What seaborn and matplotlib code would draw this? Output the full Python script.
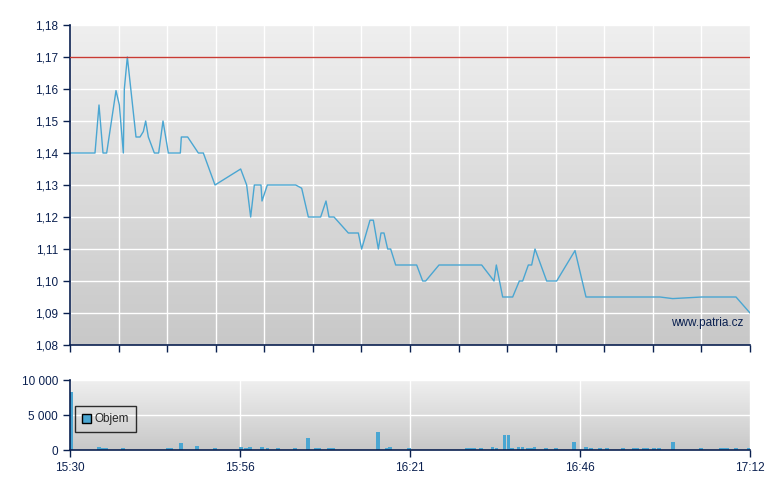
import numpy as np
import pandas as pd
import matplotlib
matplotlib.use("Agg")
import matplotlib.pyplot as plt
from matplotlib.patches import Patch
from matplotlib.ticker import FuncFormatter
import seaborn as sns

# price trace, minutes after 15:30
price_t = [0, 3.75, 4.35, 4.95, 5.5, 6.9, 7.4, 8.0, 8.15, 8.6,
           9.9, 10.5, 11.0, 11.35, 11.75, 12.65, 13.3, 13.95, 14.75, 16.55,
           16.7, 17.65, 19.25, 20.0, 21.75, 25.6, 26.5, 27.1, 27.65, 28.65,
           28.8, 29.6, 33.85, 34.75, 35.75, 37.6, 38.4, 38.85, 39.6, 41.75,
           43.25, 43.75, 45.0, 45.5, 46.25, 46.65, 47.1, 47.65, 48.1, 48.85,
           52.0, 52.9, 53.35, 55.35, 61.75, 63.6, 63.95, 64.9, 66.4, 67.4,
           67.9, 68.75, 69.25, 69.75, 71.5, 73.0, 75.75, 77.4, 88.5, 90.4,
           94.75, 99.9, 102]
price_v = [1.14, 1.14, 1.155, 1.14, 1.14, 1.1595, 1.155, 1.14, 1.16, 1.17,
           1.145, 1.145, 1.1467, 1.15, 1.145, 1.14, 1.14, 1.15, 1.14, 1.14,
           1.145, 1.145, 1.14, 1.14, 1.13, 1.135, 1.13, 1.12, 1.13, 1.13,
           1.125, 1.13, 1.13, 1.129, 1.12, 1.12, 1.125, 1.12, 1.12, 1.115,
           1.115, 1.11, 1.119, 1.119, 1.11, 1.115, 1.115, 1.11, 1.11, 1.105,
           1.105, 1.10, 1.10, 1.105, 1.105, 1.10, 1.105, 1.095, 1.095, 1.10,
           1.10, 1.105, 1.105, 1.11, 1.10, 1.10, 1.1095, 1.095, 1.095, 1.0945,
           1.095, 1.095, 1.09]
ref_price = 1.17

# volume ("Objem") bars
vol_t = [0.13, 4.33, 4.87, 5.39, 7.93, 14.65, 15.15, 16.63, 19.05, 21.75,
         25.63, 26.38, 26.98, 28.78, 29.63, 31.18, 33.73, 35.68, 36.86, 37.39,
         38.84, 39.42, 46.18, 47.5, 48.02, 50.83, 59.44, 60.0, 60.58, 61.65,
         63.4, 63.98, 65.2, 65.75, 66.3, 67.3, 67.85, 68.65, 69.15, 69.7,
         71.38, 72.88, 75.58, 77.38, 78.13, 79.48, 80.53, 82.93, 84.56, 85.09,
         86.06, 86.59, 87.58, 88.33, 90.43, 94.63, 97.6, 98.1, 98.6, 99.88,
         101.85]
vol_v = [8330, 360, 230, 230, 230, 230, 230, 1000, 570, 230,
         360, 280, 470, 360, 240, 230, 230, 1710, 230, 230,
         230, 230, 2570, 230, 360, 230, 230, 230, 230, 230,
         360, 230, 2140, 2140, 230, 360, 360, 230, 230, 360,
         230, 230, 1190, 360, 230, 230, 230, 230, 230, 230,
         230, 230, 230, 230, 1190, 230, 230, 230, 230, 230,
         230]

time_labels = ["15:30", "15:56", "16:21", "16:46", "17:12"]
t_end = 102

navy = "#0a2050"
blue = "#4aa6d2"

sns.set_theme(style="ticks")
plt.rcParams["font.family"] = ["Liberation Sans", "DejaVu Sans"]

fig = plt.figure(figsize=(7.8, 4.9), dpi=100)
ax = fig.add_axes([70 / 780, 1 - 345 / 490, 680 / 780, 320 / 490])
axv = fig.add_axes([70 / 780, 1 - 450 / 490, 680 / 780, 70 / 490])

grad = np.linspace(0, 1, 256).reshape(-1, 1)
for a in (ax, axv):
    a.imshow(grad, cmap=matplotlib.colors.LinearSegmentedColormap.from_list(
        "bg", ["#efefef", "#c8c8c8"]), aspect="auto", extent=(0, 1, 0, 1),
        transform=a.transAxes, zorder=-1)
    a.set_axisbelow(True)
    a.grid(True, color="white", linewidth=1)
    for s in ("top", "right"):
        a.spines[s].set_visible(False)
    for s in ("left", "bottom"):
        a.spines[s].set_color(navy)
        a.spines[s].set_linewidth(1.2)
    a.tick_params(colors=navy, labelcolor=navy, length=5, width=1, labelsize=8.5)
    a.set_xlim(0, t_end)

df = pd.DataFrame({"t": price_t, "price": price_v})
sns.lineplot(data=df, x="t", y="price", ax=ax, color=blue, linewidth=1,
             estimator=None, sort=False)
ax.axhline(ref_price, color="#c83a32", linewidth=1, zorder=3)
ax.set_ylim(1.08, 1.18)
ax.set_yticks(np.round(np.arange(1.08, 1.1801, 0.01), 2))
ax.yaxis.set_major_formatter(FuncFormatter(lambda v, p: f"{v:.2f}".replace(".", ",")))
ax.set_xticks(np.linspace(0, t_end, 15))
ax.set_xticklabels([])
ax.set_xlabel("")
ax.set_ylabel("")
ax.text(0.99, 0.069, "www.patria.cz", transform=ax.transAxes, ha="right",
        va="center", fontsize=8.5, color=navy)

axv.bar(vol_t, vol_v, width=0.53, color=blue, linewidth=0, zorder=2)
axv.set_ylim(0, 10000)
axv.set_yticks([0, 5000, 10000])
axv.yaxis.set_major_formatter(FuncFormatter(lambda v, p: f"{int(v):,}".replace(",", " ")))
axv.set_xticks(np.linspace(0, t_end, 5))
axv.set_xticklabels(time_labels)
leg = axv.legend(handles=[Patch(facecolor=blue, edgecolor="black", linewidth=1, label="Objem")],
                 loc="center left", bbox_to_anchor=(0.0, 0.44), fontsize=8.5,
                 frameon=True, fancybox=False, handlelength=0.8, handleheight=0.8,
                 handletextpad=0.3, borderpad=0.6, borderaxespad=0.4)
leg.get_frame().set_edgecolor("black")
leg.get_frame().set_facecolor("none")
leg.get_frame().set_linewidth(1)

fig.savefig("out.png", dpi=100)
